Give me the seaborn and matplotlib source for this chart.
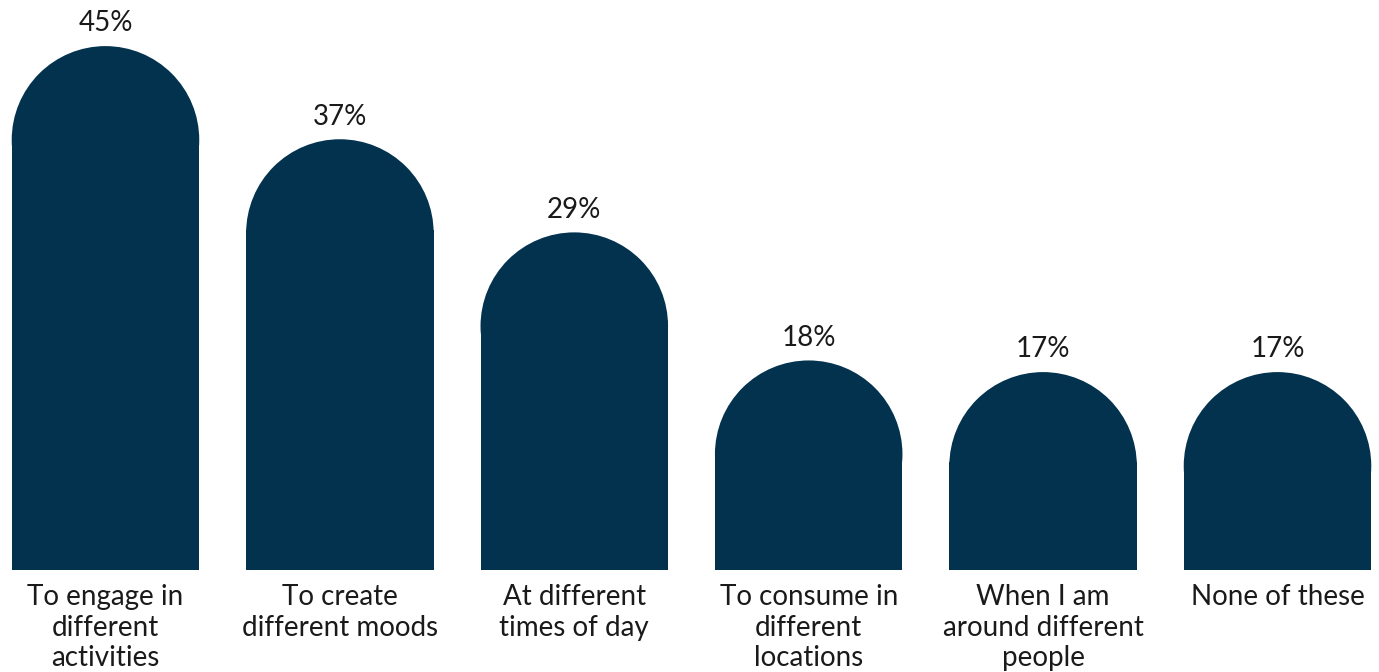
import matplotlib
matplotlib.use("Agg")
import matplotlib.pyplot as plt
from matplotlib.patches import Ellipse
import seaborn as sns
import pandas as pd

# datos del grafico
categorias = ["To engage in\ndifferent\nactivities", "To create\ndifferent moods",
              "At different\ntimes of day", "To consume in\ndifferent\nlocations",
              "When I am\naround different\npeople", "None of these"]
valores = [45, 37, 29, 18, 17, 17]
etiquetas = ["45%", "37%", "29%", "18%", "17%", "17%"]

color_barra = "#03324f"
color_texto = "#1a1a1a"

sns.set_theme(style="white")
plt.rcParams["font.family"] = ["Lato", "DejaVu Sans"]

df = pd.DataFrame({"cat": categorias, "val": valores})

W, H = 1379, 672
fig = plt.figure(figsize=(W / 100, H / 100), dpi=100)
ax = fig.add_axes([0, 102 / H, 1, 570 / H])

sns.barplot(data=df, x="cat", y="val", color=color_barra, saturation=1, width=0.8, ax=ax)

ax.set_xlim(-0.45, 5.433)
ax.set_ylim(0, 48.96)

# px por unidad de datos para hacer la tapa redonda
px_x = W / (5.433 + 0.45)
px_y = 570 / 48.96

for p in list(ax.patches):
    x0 = p.get_x()
    w = p.get_width()
    h = p.get_height()
    ry = (w / 2) * px_x / px_y  # radio vertical en unidades de datos
    p.set_height(h - ry + 0.3)
    p.set_linewidth(0)
    cap = Ellipse((x0 + w / 2, h - ry), w, 2 * ry, facecolor=color_barra, linewidth=0)
    ax.add_patch(cap)

for i, (v, t) in enumerate(zip(valores, etiquetas)):
    ax.annotate(t, (i, v), xytext=(0, 7), textcoords="offset points",
                ha="center", va="bottom", fontsize=20, color=color_texto)

ax.set_xlabel("")
ax.set_ylabel("")
ax.set_yticks([])
ax.tick_params(axis="x", length=0, pad=10)
for lab in ax.get_xticklabels():
    lab.set_fontsize(20)
    lab.set_color(color_texto)
    lab.set_linespacing(1.22)
for s in ax.spines.values():
    s.set_visible(False)

fig.savefig("out.png", dpi=100)
